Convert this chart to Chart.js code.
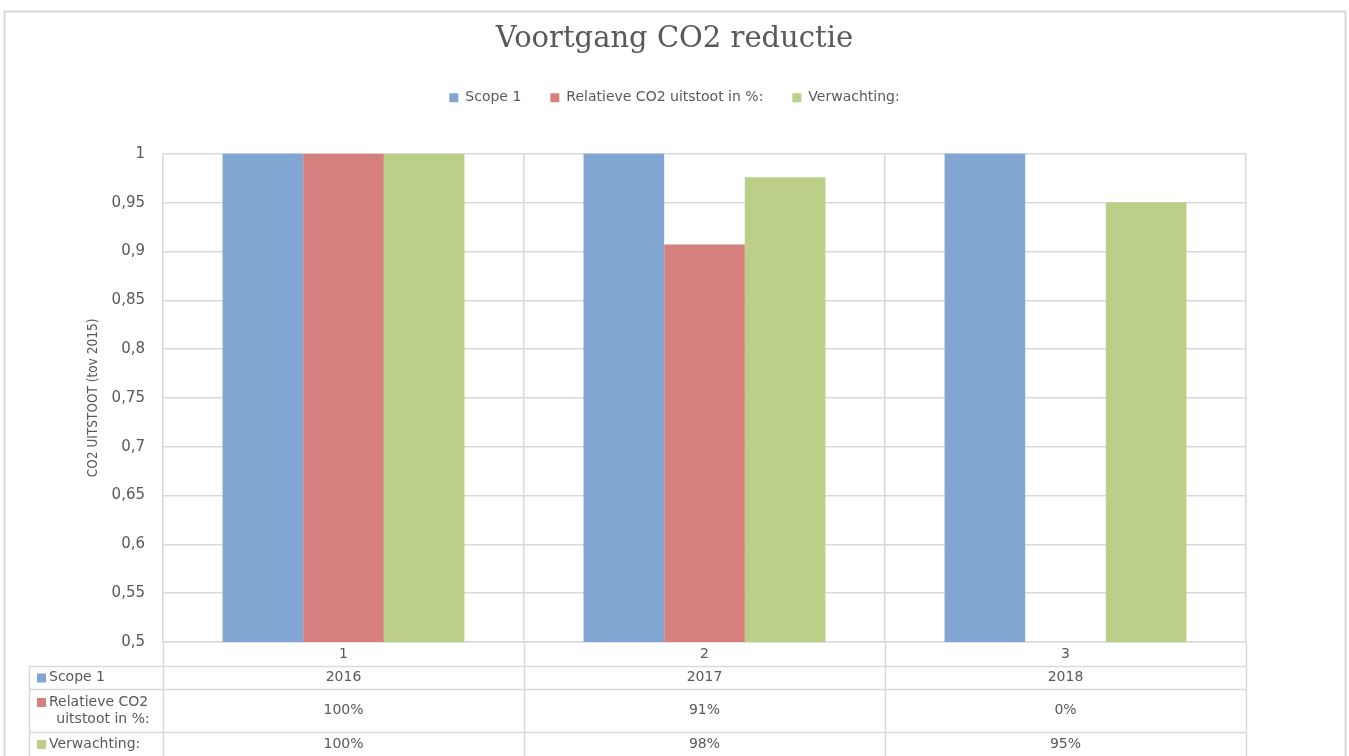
<!DOCTYPE html>
<html>
<head>
<meta charset="utf-8">
<title>Voortgang CO2 reductie</title>
<script src="https://cdn.jsdelivr.net/npm/chart.js@4/dist/chart.umd.min.js"></script>
<style>
  html, body { margin: 0; padding: 0; background: #fff; }
  canvas { display: block; }
</style>
</head>
<body>
<canvas id="chart1" width="1349" height="756"></canvas>
<script>
const labels = ["1", "2", "3"];
const scope1 = [2016, 2017, 2018];
const relatief = [1, 0.907, 0];
const verwachting = [1, 0.976, 0.95];
const yTicks = { min: 0.5, max: 1, step: 0.05 };

const seriesNames = ["Scope 1", "Relatieve CO2 uitstoot in %:", "Verwachting:"];
const colors = ["#82a6d2", "#d5807f", "#bccf88"];

const textColor = "#595959";
const lineColor = "#d9d9d9";
const font = "DejaVu Sans";

const pct = v => Math.round(v * 100) + "%";

// data table under the x axis, like the one Excel puts under a chart
const tableRows = [
  { name: ["Scope 1"], values: scope1.map(v => String(v)), height: 23 },
  { name: ["Relatieve CO2", "uitstoot in %:"], values: relatief.map(pct), height: 43 },
  { name: ["Verwachting:"], values: verwachting.map(pct), height: 24 },
];

const dataTable = {
  id: "dataTable",
  beforeDraw(chart) {
    const { ctx, width, height } = chart;
    ctx.save();
    ctx.fillStyle = "#fff";
    ctx.fillRect(0, 0, width, height);
    // outer frame
    ctx.strokeStyle = lineColor;
    ctx.lineWidth = 2;
    ctx.beginPath();
    ctx.moveTo(4.5, height);
    ctx.lineTo(4.5, 11.5);
    ctx.lineTo(1345.5, 11.5);
    ctx.lineTo(1345.5, height);
    ctx.stroke();
    ctx.restore();
  },
  afterDraw(chart) {
    const { ctx, chartArea, height } = chart;
    const x = chart.scales.x;
    const left = 29;
    const colW = (chartArea.right - chartArea.left) / labels.length;

    ctx.save();
    ctx.strokeStyle = lineColor;
    ctx.lineWidth = 1.5;

    // vertical lines through the axis row and the table
    ctx.beginPath();
    for (let i = 0; i <= labels.length; i++) {
      const px = Math.round(chartArea.left + i * colW) + 0.5;
      ctx.moveTo(px, chartArea.bottom);
      ctx.lineTo(px, height);
    }
    ctx.moveTo(left + 0.5, x.bottom);
    ctx.lineTo(left + 0.5, height);

    // row separators
    let y = x.bottom;
    tableRows.forEach(row => {
      ctx.moveTo(left, Math.round(y) + 0.5);
      ctx.lineTo(chartArea.right, Math.round(y) + 0.5);
      y += row.height;
    });
    ctx.stroke();

    ctx.font = "14px " + font;
    ctx.fillStyle = textColor;
    ctx.textBaseline = "middle";

    y = x.bottom;
    tableRows.forEach((row, r) => {
      const mid = y + row.height / 2;
      const lh = 17;
      const first = mid - (row.name.length - 1) * lh / 2;

      // series key + name
      ctx.fillStyle = colors[r];
      ctx.fillRect(37, first - 4, 9, 9);
      ctx.fillStyle = textColor;
      ctx.textAlign = "left";
      ctx.fillText(row.name[0], 49, first);
      ctx.textAlign = "center";
      for (let k = 1; k < row.name.length; k++) {
        ctx.fillText(row.name[k], 103, first + k * lh);
      }

      // values per category
      row.values.forEach((v, i) => {
        ctx.fillText(v, x.getPixelForValue(i), mid);
      });
      y += row.height;
    });
    ctx.restore();
  },
};

const fmtTick = v => String(Number(v.toFixed(2))).replace(".", ",");

const ctx = document.getElementById("chart1");
const chart = new Chart(ctx, {
  type: "bar",
  data: {
    labels: labels,
    datasets: [
      { label: seriesNames[0], data: scope1, backgroundColor: colors[0] },
      { label: seriesNames[1], data: relatief, backgroundColor: colors[1] },
      { label: seriesNames[2], data: verwachting, backgroundColor: colors[2] },
    ],
  },
  options: {
    responsive: false,
    animation: false,
    devicePixelRatio: 1,
    categoryPercentage: 0.67,
    barPercentage: 1,
    layout: { padding: { top: 12, left: 80, right: 80, bottom: 90 } },
    scales: {
      x: {
        grid: { color: lineColor, lineWidth: 1.5, offset: true, drawTicks: false },
        border: { color: lineColor, width: 1.5 },
        ticks: { color: textColor, font: { family: font, size: 14 }, padding: 4 },
        afterFit(scale) { scale.height = 24; },
      },
      // spacer axes: keep the plot clear of the legend and centred under the title
      x2: {
        position: "top",
        grid: { display: false },
        border: { display: false },
        ticks: { display: false },
        afterFit(scale) { scale.height = 39; },
      },
      y: {
        min: yTicks.min,
        max: yTicks.max,
        grid: { color: lineColor, lineWidth: 1.5, drawTicks: false },
        border: { display: false },
        ticks: {
          stepSize: yTicks.step,
          color: textColor,
          font: { family: font, size: 15 },
          padding: 18,
          callback: v => fmtTick(v),
        },
        title: {
          display: true,
          text: "CO2 UITSTOOT (tov 2015)",
          color: textColor,
          font: { family: "DejaVu Sans Condensed, DejaVu Sans", size: 13.5 },
          padding: { top: 5, bottom: 0 },
        },
        afterFit(scale) { scale.width = 83; },
      },
      y2: {
        position: "right",
        grid: { display: false },
        border: { display: false },
        ticks: { display: false },
        afterFit(scale) { scale.width = 23; },
      },
    },
    plugins: {
      title: {
        display: true,
        text: "Voortgang CO2 reductie",
        color: textColor,
        font: { family: "DejaVu Serif", size: 29, weight: "normal" },
        padding: { top: 10, bottom: 5 },
      },
      legend: {
        labels: {
          color: textColor,
          font: { family: font, size: 14 },
          boxWidth: 9,
          boxHeight: 9,
          padding: 29,
        },
      },
      tooltip: { enabled: false },
    },
  },
  plugins: [dataTable],
});
</script>
</body>
</html>
